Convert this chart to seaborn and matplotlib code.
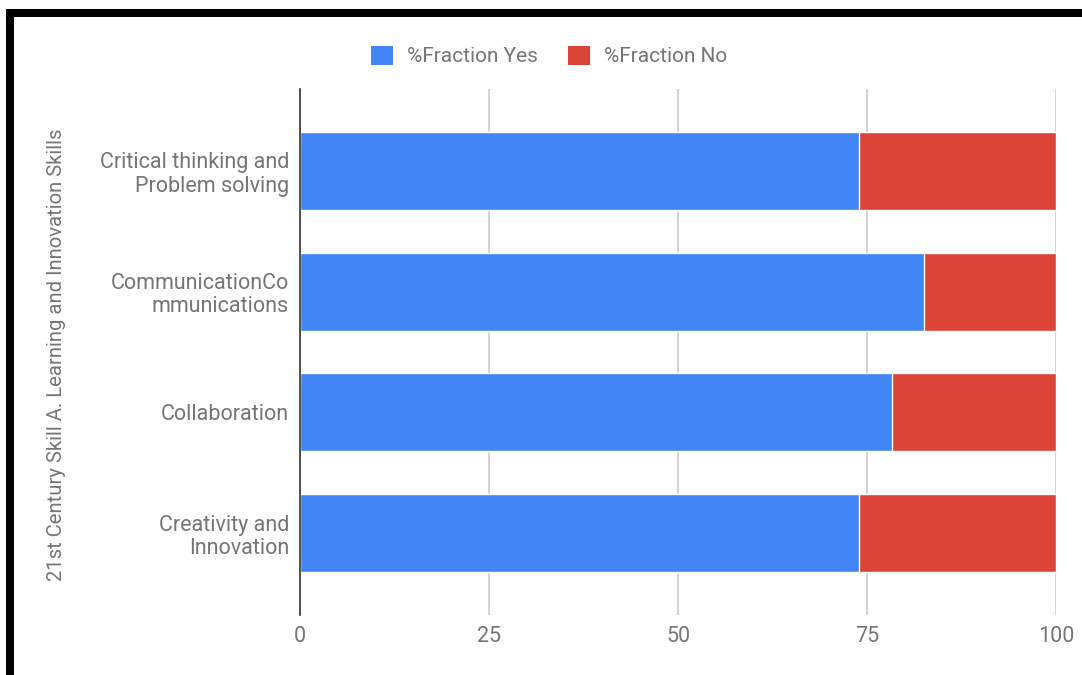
import matplotlib
matplotlib.use("Agg")
import matplotlib.pyplot as plt
import seaborn as sns
import pandas as pd
from matplotlib.patches import Patch, Rectangle

categories = ["Critical thinking and\nProblem solving",
              "CommunicationCo\nmmunications",
              "Collaboration",
              "Creativity and\nInnovation"]
fraction_yes = [74.0, 82.6, 78.3, 74.0]
fraction_no = [26.0, 17.4, 21.7, 26.0]
series_names = ["%Fraction Yes", "%Fraction No"]
x_ticks = [0, 25, 50, 75, 100]
y_title = "21st Century Skill A. Learning and Innovation Skills"

BLUE = "#4285F4"
RED = "#DB4437"
GRAY = "#757575"

sns.set_style("white")
plt.rcParams["font.family"] = ["Roboto", "DejaVu Sans"]

df = pd.DataFrame({"cat": categories, "yes": fraction_yes, "no": fraction_no})
df["total"] = df["yes"] + df["no"]

fig = plt.figure(figsize=(10.82, 6.75), dpi=100)
ax = fig.add_axes([300 / 1082, 1 - 615 / 675, 756 / 1082, 526 / 675])

sns.barplot(data=df, y="cat", x="total", color=RED, saturation=1,
            width=0.645, orient="h", ax=ax, zorder=2)
sns.barplot(data=df, y="cat", x="yes", color=BLUE, saturation=1,
            width=0.645, orient="h", ax=ax, zorder=3)

ax.set_xlim(0, 100)
ax.set_ylim(3.675, -0.675)
ax.set_xticks(x_ticks)
ax.set_xticklabels([str(t) for t in x_ticks])
ax.grid(axis="x", color="#cccccc", linewidth=1.2, zorder=0)
ax.grid(axis="y", visible=False)
ax.set_axisbelow(True)
for s in ["top", "right", "bottom"]:
    ax.spines[s].set_visible(False)
ax.spines["left"].set_color("#333333")
ax.spines["left"].set_linewidth(1.2)
ax.spines["left"].set_zorder(5)
ax.tick_params(axis="both", length=0, labelsize=15.5, colors=GRAY)
ax.tick_params(axis="y", pad=8)
ax.tick_params(axis="x", pad=8)
for lab in ax.get_yticklabels():
    lab.set_multialignment("right")
    lab.set_linespacing(1.15)
ax.set_xlabel("")
ax.set_ylabel("")
fig.text(57 / 1082, 1 - 355 / 675, y_title, rotation=90, ha="center", va="center",
         fontsize=14.6, color=GRAY)

handles = [Patch(facecolor=BLUE, edgecolor="none", label=series_names[0]),
           Patch(facecolor=RED, edgecolor="none", label=series_names[1])]
fig.legend(handles=handles, loc="center", bbox_to_anchor=(549 / 1082, 1 - 56 / 675),
           ncol=2, frameon=False, fontsize=15, handlelength=1.05, handleheight=1.05,
           handletextpad=0.67, columnspacing=1.45, labelcolor=GRAY)

# black frame edges
fig.add_artist(Rectangle((6 / 1082, 0), 8 / 1082, 1 - 9 / 675, transform=fig.transFigure,
                         facecolor="black", edgecolor="none"))
fig.add_artist(Rectangle((6 / 1082, 1 - 17 / 675), 1 - 6 / 1082, 8 / 675,
                         transform=fig.transFigure, facecolor="black", edgecolor="none"))

fig.savefig("out.png", dpi=100)
